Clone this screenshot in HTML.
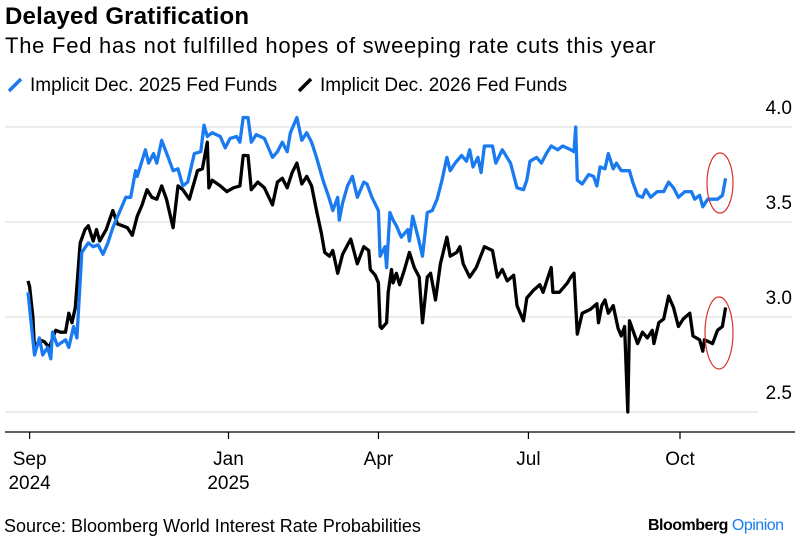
<!DOCTYPE html>
<html><head><meta charset="utf-8"><style>
body{margin:0;background:#fff;font-family:"Liberation Sans",Arial,sans-serif;}
#wrap{position:relative;width:800px;height:536px;overflow:hidden;background:#fff;}
.t{position:absolute;white-space:nowrap;color:#000;}
</style></head><body>
<div id="wrap">
<div class="t" style="left:5px;top:3px;font-size:24px;font-weight:bold;letter-spacing:0.2px;">Delayed Gratification</div>
<div class="t" style="left:5px;top:33px;font-size:22px;letter-spacing:0.75px;">The Fed has not fulfilled hopes of sweeping rate cuts this year</div>
<div class="t" style="left:6px;top:75px;font-size:19px;">
<svg width="24" height="17" style="vertical-align:-2px"><line x1="3" y1="15" x2="15" y2="3" stroke="#1a7bf0" stroke-width="3.5"/></svg>Implicit Dec. 2025 Fed Funds</div>
<div class="t" style="left:296px;top:75px;font-size:19px;">
<svg width="24" height="17" style="vertical-align:-2px"><line x1="3" y1="15" x2="15" y2="3" stroke="#000" stroke-width="3.5"/></svg>Implicit Dec. 2026 Fed Funds</div>
<svg id="plot" width="800" height="536" style="position:absolute;left:0;top:0"></svg>
<div class="t" style="left:4px;top:516px;font-size:18px;">Source: Bloomberg World Interest Rate Probabilities</div>
<div class="t" style="left:648px;top:517px;font-size:16px;font-weight:bold;letter-spacing:-0.5px;">Bloomberg <span style="color:#1a7bf0;font-weight:normal">Opinion</span></div>
</div>
<script>
const yTicks=[4.0,3.5,3.0,2.5];
const yTickLabels=["4.0","3.5","3.0","2.5"];
const xTickDays=[1,123,215,307,400];
const xTickLabels=["Sep","Jan","Apr","Jul","Oct"];
const xTickYears=["2024","2025","","",""];
const blueDays=[0,4,7,9,12,14,15,18,23,25,28,30,33,37,40,43,46,49,52,56,60,63,66,67,72,74,77,79,82,86,89,92,95,98,102,106,108,110,113,118,121,124,128,130,132,135,137,140,145,150,153,156,159,161,165,168,171,174,177,181,185,187,190,191,193,196,199,202,206,208,211,215,216,219,220,222,224,226,229,233,234,236,239,242,245,248,251,254,257,259,262,266,269,271,273,276,278,280,285,287,291,296,300,304,306,308,312,315,318,321,325,328,333,335,336,337,340,344,347,349,351,354,356,359,361,364,369,371,374,377,379,382,386,390,393,396,399,403,407,409,412,414,417,423,426,428];
const blueVals=[3.13,2.80,2.89,2.80,2.84,2.78,2.92,2.85,2.88,2.84,2.95,2.89,3.34,3.39,3.37,3.38,3.33,3.39,3.47,3.55,3.63,3.63,3.77,3.74,3.88,3.81,3.86,3.81,3.93,3.84,3.77,3.78,3.69,3.71,3.86,3.87,4.01,3.95,3.97,3.95,3.89,3.94,3.95,3.92,4.05,4.05,3.92,3.96,3.94,3.84,3.87,3.92,3.87,3.97,4.05,3.93,3.97,3.92,3.84,3.72,3.62,3.56,3.63,3.51,3.60,3.69,3.74,3.63,3.71,3.70,3.63,3.56,3.32,3.37,3.26,3.55,3.51,3.48,3.42,3.46,3.40,3.53,3.43,3.32,3.55,3.56,3.62,3.72,3.84,3.77,3.81,3.85,3.82,3.88,3.79,3.84,3.76,3.90,3.90,3.81,3.88,3.81,3.68,3.67,3.72,3.82,3.84,3.81,3.86,3.90,3.88,3.90,3.88,3.87,4.00,3.72,3.70,3.75,3.74,3.69,3.79,3.78,3.86,3.78,3.81,3.77,3.77,3.71,3.64,3.63,3.67,3.63,3.66,3.66,3.71,3.68,3.63,3.66,3.66,3.62,3.64,3.58,3.62,3.62,3.64,3.73];
const blackDays=[0,1,3,4,7,10,13,17,20,23,25,27,29,32,35,37,40,42,44,48,52,55,58,61,64,67,70,73,76,79,82,85,89,92,95,99,101,104,107,110,111,113,118,122,126,130,132,135,137,141,145,150,153,156,159,162,165,168,171,174,177,180,182,185,187,190,193,198,202,206,209,210,213,215,216,217,220,221,223,224,226,228,231,234,237,240,242,245,247,250,253,257,259,263,265,267,271,275,280,285,288,291,294,298,300,304,306,310,314,316,319,321,322,326,331,333,335,337,340,345,349,350,352,354,356,359,362,364,366,368,369,374,377,380,383,384,387,390,393,396,399,402,406,408,412,414,415,420,423,426,428];
const blackVals=[3.19,3.16,3.00,2.83,2.88,2.87,2.84,2.93,2.92,2.92,3.02,2.97,3.05,3.39,3.46,3.48,3.40,3.46,3.40,3.46,3.56,3.49,3.48,3.47,3.43,3.53,3.59,3.67,3.63,3.62,3.69,3.62,3.47,3.69,3.67,3.62,3.68,3.77,3.78,3.92,3.68,3.72,3.69,3.66,3.68,3.69,3.85,3.85,3.67,3.71,3.68,3.59,3.71,3.73,3.68,3.76,3.81,3.70,3.74,3.69,3.56,3.44,3.34,3.32,3.35,3.23,3.33,3.41,3.28,3.37,3.35,3.25,3.22,3.18,2.95,2.94,2.97,3.13,3.25,3.18,3.23,3.17,3.25,3.34,3.26,3.21,2.97,3.21,3.23,3.09,3.28,3.42,3.32,3.34,3.37,3.28,3.21,3.26,3.37,3.35,3.21,3.25,3.19,3.22,3.06,2.98,3.10,3.14,3.17,3.13,3.21,3.26,3.13,3.13,3.18,3.21,3.23,2.91,3.02,3.04,3.07,2.97,3.06,3.09,3.02,3.06,2.94,2.90,2.95,2.50,2.98,2.86,2.92,2.89,2.93,2.86,2.97,2.99,3.11,3.05,2.95,2.99,3.02,2.90,2.88,2.82,2.88,2.86,2.93,2.95,3.05];

const NS="http://www.w3.org/2000/svg";
const svg=document.getElementById('plot');
function xS(d){return 28+d*1.63;}
function yS(v){return 127+(4.0-v)*190;}
function mk(tag,attrs){const e=document.createElementNS(NS,tag);for(const k in attrs)e.setAttribute(k,attrs[k]);svg.appendChild(e);return e;}

yTicks.forEach((v,i)=>{
  const g=mk('line',{x1:5,x2:i===3?758:792,y1:yS(v),y2:yS(v),stroke:'#e6e6e6','stroke-width':1.5});
  
  
  const t=mk('text',{x:792,y:yS(v)-13,'text-anchor':'end','font-size':19,'font-family':'Liberation Sans, sans-serif',fill:'#000'});
  t.textContent=yTickLabels[i];
  
  
});
const ax=mk('line',{x1:5,x2:795,y1:432,y2:432,stroke:'#000','stroke-width':1.2});


xTickDays.forEach((d,i)=>{
  const tk=mk('line',{x1:xS(d),x2:xS(d),y1:432,y2:439,stroke:'#000','stroke-width':1.2});
  
  
  const t=mk('text',{x:xS(d),y:465,'text-anchor':'middle','font-size':19,'font-family':'Liberation Sans, sans-serif',fill:'#000'});
  t.textContent=xTickLabels[i];
  
  
  if(xTickYears[i]){
    const t2=mk('text',{x:xS(d),y:489,'text-anchor':'middle','font-size':19,'font-family':'Liberation Sans, sans-serif',fill:'#000'});
    t2.textContent=xTickYears[i];
    
    
  }
});
function line(days,vals,color,name){
  const pts=days.map((d,i)=>xS(d).toFixed(1)+','+yS(vals[i]).toFixed(1)).join(' ');
  const p=mk('polyline',{points:pts,fill:'none',stroke:color,'stroke-width':3.3,'stroke-linejoin':'round'});
  
  
}
line(blackDays,blackVals,'#000','series-dec-2026');
line(blueDays,blueVals,'#1a7bf0','series-dec-2025');
const e1=mk('ellipse',{cx:720,cy:183,rx:13,ry:30,fill:'none',stroke:'#d9322b','stroke-width':1.2});


const e2=mk('ellipse',{cx:719,cy:333,rx:14,ry:36,fill:'none',stroke:'#d9322b','stroke-width':1.2});


</script>
</body></html>
